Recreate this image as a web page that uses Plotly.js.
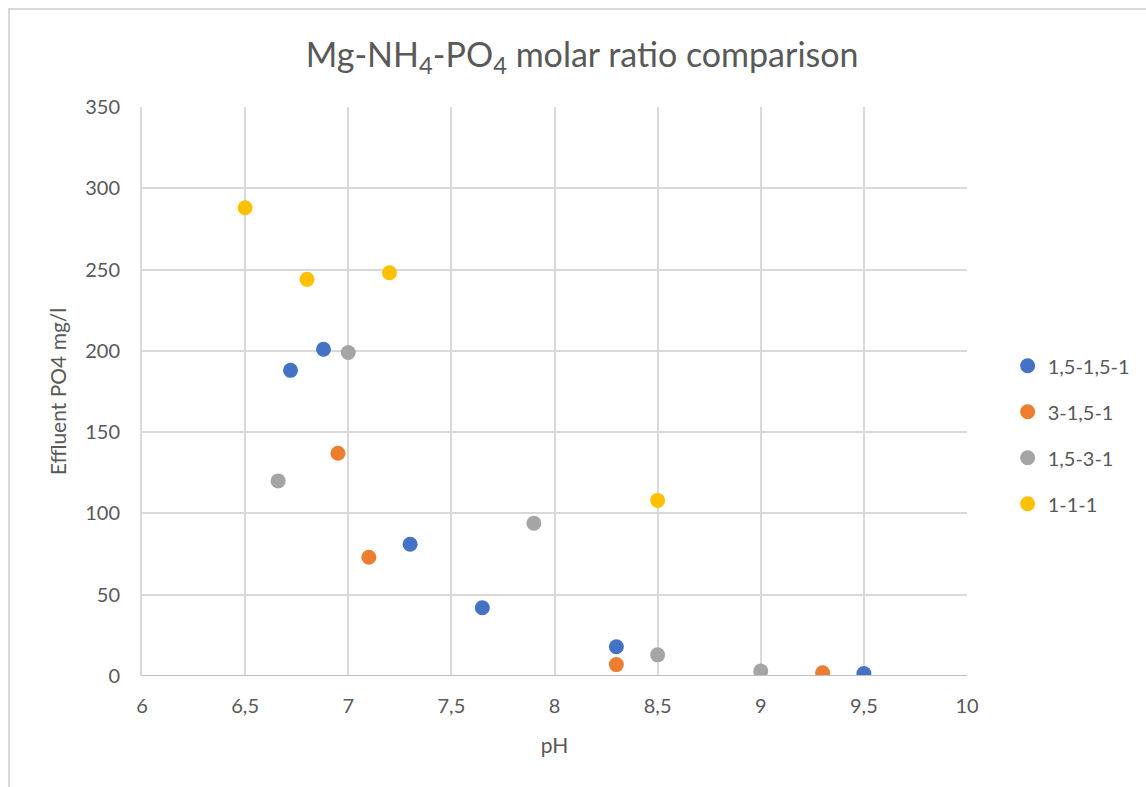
<!DOCTYPE html>
<html>
<head>
<meta charset="utf-8">
<script src="https://cdn.plot.ly/plotly-3.0.1.min.js"></script>
<style>
  html, body { margin: 0; padding: 0; background: #fff; }
  #chart { position: absolute; left: 0; top: 0; width: 1146px; height: 787px; }
  #frame { position: absolute; left: 8px; top: 8px; width: 1200px; height: 900px;
           border-left: 2px solid #d9d9d9; border-top: 2px solid #d9d9d9; pointer-events: none; }
</style>
</head>
<body>
<div id="chart"></div>
<div id="frame"></div>
<script>
const seriesNames = ["1,5-1,5-1", "3-1,5-1", "1,5-3-1", "1-1-1"];
const seriesColors = ["#4472C4", "#ED7D31", "#A5A5A5", "#FFC000"];

const ph_a = [6.72, 6.88, 7.30, 7.65, 8.30, 9.50];
const po4_a = [188, 201, 81, 42, 18, 1.5];

const ph_b = [6.95, 7.10, 8.30, 9.30];
const po4_b = [137, 73, 7, 2];

const ph_c = [6.66, 7.00, 7.90, 8.50, 9.00];
const po4_c = [120, 199, 94, 13, 3];

const ph_d = [6.50, 6.80, 7.20, 8.50];
const po4_d = [288, 244, 248, 108];

const xs = [ph_a, ph_b, ph_c, ph_d];
const ys = [po4_a, po4_b, po4_c, po4_d];

const font = "Lato, 'Open Sans', sans-serif";
const traces = seriesNames.map((n, i) => ({
  type: "scatter", mode: "markers", name: n,
  x: xs[i], y: ys[i],
  legendgroup: "g" + i,
  marker: { color: seriesColors[i], size: 15 }
}));

const layout = {
  width: 1146, height: 787,
  margin: { l: 142, r: 178, t: 107, b: 111 },
  paper_bgcolor: "#ffffff", plot_bgcolor: "#ffffff",
  font: { family: font, color: "#595959", size: 20 },
  title: {
    text: "Mg-NH<sub>4</sub>-PO<sub>4</sub> molar ratio comparison",
    font: { family: font, size: 34, color: "#595959" },
    x: 0.508, xref: "container", xanchor: "center",
    y: 0.93, yref: "container", yanchor: "middle"
  },
  xaxis: {
    range: [6, 10], dtick: 0.5, tick0: 6,
    showgrid: true, gridcolor: "#d9d9d9", gridwidth: 2,
    zeroline: false, showline: false, ticks: "",
    ticklabelstandoff: 16,
    tickfont: { size: 20, color: "#595959" },
    title: { text: "pH", font: { size: 21, color: "#595959" }, standoff: 22 }
  },
  yaxis: {
    range: [0, 350], dtick: 50, tick0: 0,
    showgrid: true, gridcolor: "#d9d9d9", gridwidth: 2,
    zeroline: false, showline: true, linecolor: "#d9d9d9", linewidth: 2,
    ticks: "", ticklen: 0,
    ticklabelstandoff: 16,
    tickfont: { size: 20, color: "#595959" },
    title: { text: "Effluent PO4 mg/l", font: { size: 21, color: "#595959" }, standoff: 13 }
  },
  shapes: [{
    type: "line", xref: "paper", yref: "y", x0: 0, x1: 1, y0: 0, y1: 0,
    line: { color: "#bfbfbf", width: 2 }
  }],
  separators: ",.",
  legend: {
    x: 1.048, xanchor: "left", y: 0.424, yanchor: "middle",
    font: { size: 20, color: "#595959" },
    traceorder: "grouped", tracegroupgap: 17,
    itemwidth: 30, bgcolor: "rgba(0,0,0,0)"
  },
  showlegend: true
};

Plotly.newPlot("chart", traces, layout, { displayModeBar: false, staticPlot: true });
</script>
</body>
</html>
